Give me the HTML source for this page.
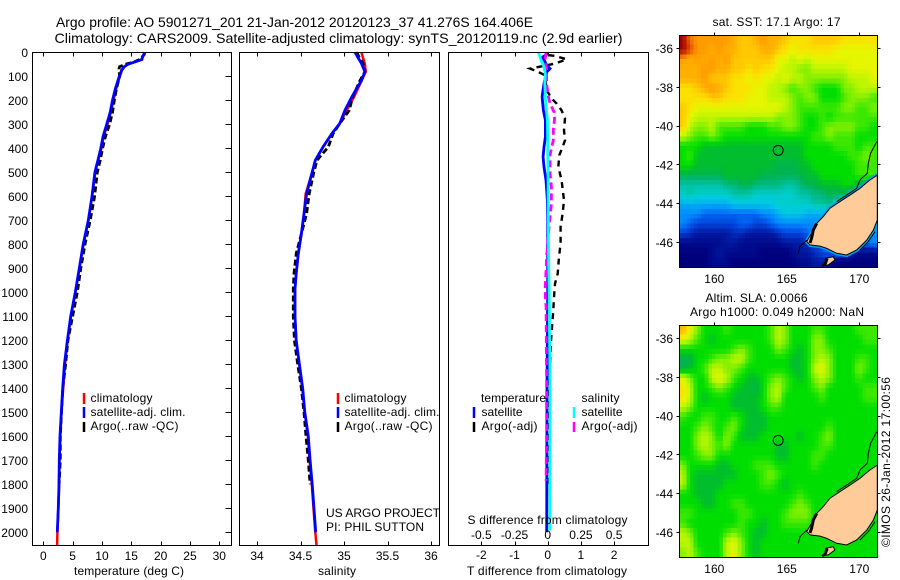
<!DOCTYPE html>
<html lang="en">
<head>
<meta charset="utf-8">
<title>Argo profile</title>
<style>
html,body{margin:0;padding:0;background:#fff;}
svg{display:block;}
text{font-family:"Liberation Sans",sans-serif;font-size:12px;fill:#000;}
.ttl{font-size:14px;}
.frame{fill:none;stroke:#000;stroke-width:1;shape-rendering:crispEdges;}
.tick{stroke:#000;stroke-width:1;shape-rendering:crispEdges;}
</style>
</head>
<body>
<svg id="chart" xmlns="http://www.w3.org/2000/svg" width="900" height="580" viewBox="0 0 900 580">
  <defs>
    <clipPath id="clip-top"><rect x="679" y="35" width="198" height="232"/></clipPath>
    <clipPath id="clip-bot"><rect x="679" y="325" width="198" height="232"/></clipPath>
  </defs>

  <text class="ttl" x="56" y="27" textLength="477" lengthAdjust="spacingAndGlyphs">Argo profile: AO 5901271_201 21-Jan-2012 20120123_37 41.276S 164.406E</text>
  <text class="ttl" x="54.5" y="43" textLength="568" lengthAdjust="spacingAndGlyphs">Climatology: CARS2009. Satellite-adjusted climatology: synTS_20120119.nc (2.9d earlier)</text>

  <g id="map-top-cells" clip-path="url(#clip-top)" shape-rendering="crispEdges"></g>
  <g id="map-top-coast" clip-path="url(#clip-top)"></g>
  <g id="map-bot-cells" clip-path="url(#clip-bot)" shape-rendering="crispEdges"></g>
  <g id="map-bot-coast" clip-path="url(#clip-bot)"></g>

  <g id="series"></g>
  <g id="axes"></g>

  <rect class="frame" x="32.5" y="52.5" width="199" height="493"/>
  <rect class="frame" x="239.5" y="52.5" width="200" height="493"/>
  <rect class="frame" x="448.5" y="52.5" width="200" height="493"/>
  <rect class="frame" x="679.5" y="35.5" width="198" height="232"/>
  <rect class="frame" x="679.5" y="325.5" width="198" height="232"/>

  <text x="129" y="575" text-anchor="middle" textLength="110">temperature (deg C)</text>
  <text x="337" y="575" text-anchor="middle" textLength="38">salinity</text>
  <text x="547" y="575" text-anchor="middle" textLength="160">T difference from climatology</text>
  <text x="467.5" y="524" textLength="160">S difference from climatology</text>

  <g>
    <line x1="84" x2="84" y1="393" y2="404" stroke="#ff0000" stroke-width="2.5"/>
    <line x1="84" x2="84" y1="407" y2="418" stroke="#0000ff" stroke-width="2.5"/>
    <line x1="84" x2="84" y1="422" y2="432" stroke="#000" stroke-width="2.5"/>
    <text x="90.5" y="402" textLength="62">climatology</text>
    <text x="90.5" y="416" textLength="95">satellite-adj. clim.</text>
    <text x="90.5" y="430" textLength="88">Argo(..raw -QC)</text>
  </g>
  <g>
    <line x1="338" x2="338" y1="393" y2="404" stroke="#ff0000" stroke-width="2.5"/>
    <line x1="338" x2="338" y1="407" y2="418" stroke="#0000ff" stroke-width="2.5"/>
    <line x1="338" x2="338" y1="422" y2="432" stroke="#000" stroke-width="2.5"/>
    <text x="344.5" y="402" textLength="62">climatology</text>
    <text x="344.5" y="416" textLength="95">satellite-adj. clim.</text>
    <text x="344.5" y="430" textLength="88">Argo(..raw -QC)</text>
  </g>
  <text x="326" y="517" textLength="114">US ARGO PROJECT</text>
  <text x="326" y="531" textLength="98">PI: PHIL SUTTON</text>
  <g>
    <text x="481" y="402" textLength="65">temperature</text>
    <text x="581.5" y="402" textLength="38">salinity</text>
    <line x1="474" x2="474" y1="407" y2="418" stroke="#0000ff" stroke-width="2.5"/>
    <line x1="474" x2="474" y1="422" y2="432" stroke="#000" stroke-width="2.5"/>
    <line x1="574" x2="574" y1="407" y2="418" stroke="#00ffff" stroke-width="2.5"/>
    <line x1="574" x2="574" y1="422" y2="432" stroke="#ff00ff" stroke-width="2.5"/>
    <text x="481.5" y="416" textLength="41">satellite</text>
    <text x="481.5" y="430" textLength="56">Argo(-adj)</text>
    <text x="581.5" y="416" textLength="41">satellite</text>
    <text x="581.5" y="430" textLength="56">Argo(-adj)</text>
  </g>

  <text x="776.5" y="26" text-anchor="middle" textLength="128">sat. SST: 17.1  Argo: 17</text>
  <text x="705.5" y="302" textLength="102">Altim. SLA: 0.0066</text>
  <text x="690" y="316" textLength="174">Argo h1000: 0.049 h2000: NaN</text>
  <text transform="translate(890,547) rotate(-90)" textLength="170">©IMOS 26-Jan-2012 17:00:56</text>
</svg>

<script>
// ---------- tick labels ----------
const depthTicks = [0,100,200,300,400,500,600,700,800,900,1000,1100,1200,1300,1400,1500,1600,1700,1800,1900,2000];
const tempTicks = [0,5,10,15,20,25,30];
const salTicks = [34,34.5,35,35.5,36];
const tDiffTicks = [-2,-1,0,1,2];
const sDiffTicks = [-0.5,-0.25,0,0.25,0.5];
const lonTicks = [160,165,170];
const latTicks = [-36,-38,-40,-42,-44,-46];

// ---------- temperature panel ----------
const tempClimDepth = [0,20,30,40,50,60,75,100,150,200,250,300,350,400,450,500,600,700,800,900,1000,1100,1200,1300,1400,1500,1600,1700,1800,1900,2000,2056];
const tempClim = [17.3,16.9,16.8,15.6,14.4,13.8,13.4,13.05,12.45,11.95,11.5,10.95,10.3,9.9,9.35,8.85,8.3,7.7,6.85,6.15,5.45,4.7,4.15,3.7,3.4,3.1,2.9,2.75,2.7,2.55,2.4,2.35];
const tempSatDepth = [0,20,30,40,50,60,75,100,150,200,250,300,350,400,450,500,600,700,800,900,1000,1100,1200,1300,1400,1500,1600,1700,1800,1900,2000];
const tempSat = [17.3,16.9,16.8,15.6,14.4,13.8,13.35,12.95,12.3,11.8,11.4,10.8,10.2,9.8,9.3,8.8,8.3,7.67,6.8,6.14,5.45,4.67,4.1,3.6,3.3,3.07,2.85,2.73,2.68,2.56,2.39];
const tempArgoDepth = [0,10,30,40,50,60,70,100,150,200,250,300,350,400,450,500,600,700,800,900,1000,1100,1200,1300,1400,1500,1600,1700,1800];
const tempArgo = [17.3,17.2,16.4,15.5,14,13,12.9,13,12.5,12.1,11.8,11.3,10.6,10.1,9.7,9.2,8.75,8,7.1,6.4,5.8,5,4.2,3.8,3.3,3.1,2.9,2.9,2.7];

// ---------- salinity panel ----------
const salClimDepth = [0,50,81,120,186,242,297,339,394,450,506,589,672,756,839,922,987,1100,1200,1300,1400,1500,1600,1700,1800,1900,2000,2056];
const salClim = [35.2,35.24,35.25,35.2,35.115,35.03,34.95,34.86,34.76,34.67,34.63,34.56,34.54,34.51,34.475,34.45,34.437,34.437,34.45,34.485,34.52,34.55,34.585,34.605,34.63,34.65,34.67,34.685];
const salSatDepth = [0,25,46,81,118,151,186,242,297,339,394,450,506,589,672,756,839,922,987,1100,1200,1300,1400,1500,1600,1700,1800,1900,2000];
const salSat = [35.126,35.165,35.2,35.24,35.2,35.146,35.09,35.01,34.95,34.86,34.76,34.67,34.63,34.57,34.54,34.51,34.475,34.45,34.437,34.437,34.45,34.487,34.525,34.55,34.59,34.61,34.635,34.655,34.675];
const salArgoDepth = [0,25,46,81,120,186,242,297,339,394,450,506,589,672,756,839,922,987,1100,1200,1300,1400,1500,1600,1700,1800];
const salArgo = [35.146,35.18,35.22,35.24,35.18,35.1,35.06,34.95,34.875,34.82,34.69,34.65,34.6,34.57,34.51,34.45,34.425,34.417,34.417,34.43,34.468,34.51,34.54,34.563,34.59,34.61];

// ---------- difference panel ----------
const tDiffArgoDepth = [12,15,29,47,68,82,96,158,193,214,242,276,325,367,394,429,478,533,617,672,728,797,853,922,964,1019,1075,1200,1370,1600,1800];
const tDiffArgo = [0.02,0.22,0.57,0.22,-0.53,-0.28,-0.08,-0.03,0.12,0.27,0.42,0.52,0.49,0.52,0.45,0.35,0.32,0.42,0.49,0.45,0.39,0.39,0.34,0.3,0.22,0.19,0.17,0.1,0.05,0.02,0.02];
const tDiffSatDepth = [0,8,20,54,68,82,130,186,242,283,353,394,436,478,533,617,700,1000,1400,2000];
const tDiffSat = [0,-0.02,-0.15,-0.03,0.07,-0.03,-0.11,-0.17,-0.13,-0.07,-0.07,-0.11,-0.14,-0.11,-0.05,-0.01,0,0,-0.02,-0.03];
const sDiffArgoDepth = [0,33,75,130,186,214,249,276,325,367,394,429,506,561,631,686,714,783,853,908,971,1019,1061,1370,1578,1786];
const sDiffArgo = [-0.012,-0.02,-0.008,-0.008,0.005,0.018,0.048,0.052,0.042,0.042,0.03,0.018,0.018,0.028,0.028,0.018,0.012,0.002,-0.008,-0.012,-0.018,-0.018,-0.012,-0.008,-0.008,-0.012];
const sDiffSatDepth = [0,33,61,89,130,186,228,283,367,506,783,1075,1400,1992];
const sDiffSat = [-0.07,-0.05,-0.028,-0.018,-0.022,-0.018,-0.012,-0.002,0,0.002,0.005,0.012,0.018,0.016];

// ---------- SST map (colour level per 0.5 x 0.5 deg block, north to south) ----------
const sstRows = [
[13,11.5,11,11,11,11,11,10.5,10,10,10.5,11,10.5,10.5,10,9.5,9.5,9.5,10,10,10,10,9.5,9.5,9.5,9.5,9.5],
[13,12,11,11,10.5,11,10.5,10.5,10,10,10,10.5,10.5,10,9.5,9,9.5,9.5,9.5,9.5,9.5,9,9,9,9,9,9],
[11,10.5,11,10.5,11,10.5,11,10,10,10,10,10,10,9,9,8.5,9,8.5,9,9,9,9,9,9,9,9,9],
[10.5,10.5,10.5,11,11,10.5,10.5,10,10,9.5,10,9.5,9.5,9,8.5,8.5,8,8,8.5,8.5,8.5,8.5,8.5,9,9,9,9],
[10.5,10.5,10.5,11,10,10,10,9.5,9.5,9,9.5,9,9,8.5,9,8.5,8.5,8,8,8,8,8,8,8.5,8.5,8.5,9],
[9.5,9.5,10,10.5,11,10.5,10,9.5,9.5,9.5,9,9,8.5,8.5,8,7.5,8,8,7.5,7,7,7,8,8,8.5,8.5,8.5],
[9.5,9.5,9.5,9.5,10,10,9.5,9.5,9.5,9,9,9,8.5,8.5,8.5,8,7.5,8,8,7,7,7,7.5,8,8,8,7.5],
[10,9.5,9,9,9,9,9,9,9,9,9,9,9,9,8.5,8,7.5,7.5,7.5,7.5,7.5,7.5,8,8,7.5,7.5,8],
[10,9,8.5,8.5,8.5,8.5,8.5,8.5,8.5,8.5,8.5,8.5,8.5,8,8,8,7.5,7,7,7.5,7,7.5,7.5,7.5,7.5,7.5,7.5],
[10,8.5,8,8,8.5,7.5,7.5,7.5,7.5,7,7,7,7.5,7.5,8,8,7.5,7,7,7.5,8,8,8,8,7.5,7.5,7],
[8.5,8,7.5,7.5,8,7.5,7,7,7,7,7,7,7,7,7,7,7,7,7.5,7.5,8,7.5,7.5,7.5,7,7,7],
[7,7,7,6.5,6.5,6.5,6.5,6.5,6.5,6.5,6.5,6.5,6.5,6.5,6.5,6.5,6.5,7,7,7,7,7.5,7.5,7.5,7,7.5,7.5],
[7,7.5,6.5,6.5,6.5,6.5,6.5,6.5,6.5,6.5,6.5,6.5,6.5,6.5,6.5,6.5,6.5,7,7,7,7,7,7,7.5,7.5,8,7.5],
[7,7,6.5,6.5,6.5,6.5,6.5,6.5,6.5,6.5,6.5,6.5,6.5,6,6,6,6.5,6.5,7,7,7,7,7,7,7.5,7.5,7.5],
[6,6,6,6,6,6,6.5,6.5,6.5,6.5,6.5,6,6,6,6,6,6,6.5,6.5,7,7,7,7,7,7.5,7.5,7.5],
[5,5,5,5,5,5,5.5,5.5,6,6,5.5,5.5,5.5,5.5,5,5,5.5,6,6,6.5,6.5,6.5,7,7,6,6,6],
[4.5,5,4.5,4.5,4.5,4.5,4.5,5,5,5,4.5,4.5,4.5,4.5,4.5,4.5,5,5,5.5,5.5,6,6,6,4.5,4,4,4],
[3.5,3.5,3.5,3.5,3.5,3.5,3.5,4,4,4,4,4,4,4.5,4.5,4.5,4.5,4.5,5,5,5.5,4,3,3,3,3,3],
[3,3,3,2.5,2.5,2.5,2.5,2.5,2.5,2.5,2.5,3,3,3.5,4,4,4,3.5,3.5,3.5,3.5,3.5,3,3,3,3,3],
[3,2.5,2,2,2,2,2,2,2.5,2.5,2,2,2.5,3,3,3,3,3,3,3.5,3.5,3,3,3,3,3,3],
[2,1.5,1,1,1,1,1,1.5,1.5,1,1,1,1,1.5,2,2,2,2.5,3,3,3,3,3,3,3,3,3],
[0.5,0.5,0.5,0.5,0.5,0.5,1,1,0.5,0.5,0.5,0.5,0.5,0.5,1,1,1,1.5,2,2.5,2.5,2.5,2.5,2.5,2.5,2.5,3],
[0,0,0,0,0.5,1,0.5,0.5,0.5,0.5,0.5,0,0,0,0,0.5,1,1,1.5,2,2.5,2.5,2,1,0.5,0.5,0.5],
[0,0,0,0,0.5,0.5,0.5,0,0,0,0,0,0,0,0,0,0.5,0.5,1,1,0.5,0,0,0,0,0,0]
];

// ---------- altimetry SLA map ----------
const slaRows = [
[10.5,9,8,7,7,7,7.5,7,7,7,7,7,7.5,8.5,8,7,7,7,7.5,7.5,7,7,7,7,7.5,7.5,7.5],
[9,8.5,7.5,7,6.5,7,7,7,7,7,7,7,7.5,8.5,8,7,7,7,8,8,7,7,7,7,7,7.5,7.5],
[7,7,7,7,7,7,7,7.5,8,7.5,7,7,7,8,7.5,7,6.5,7,8,8,7.5,7,7,7,7,7,7],
[6,6,7,7,7.5,8,8,8.5,8.5,7.5,7,7,7,7,7,6.5,6.5,7,8,8.5,8,7,7,7,7.5,7.5,7],
[6,6.5,7,7.5,8.5,8.5,8,8,7.5,7,7,7,7,7,7,6.5,6.5,7,8.5,9,8,7,7,7,8,7.5,7],
[9,8,7,7,8.5,9,8.5,7.5,7,6.5,6.5,7,7.5,8,7.5,7,6.5,7,8,8.5,8,7,7,7,7.5,7,7],
[9.5,8.5,7,7,7.5,8,7.5,7,6.5,6.5,6,7,8,8.5,7.5,7,7,7,7.5,8,7,7,7,7,7,7.5,7.5],
[9.5,8.5,7,6.5,7,7,7,6.5,6.5,6.5,6.5,7,8,8.5,7,7,7,7,7,7.5,7,7,7,7,7,7.5,7.5],
[8.5,8,7,7,7,7,7,6.5,6.5,6.5,6.5,7,7.5,7.5,7,7,7,7,7,7,7,7,7,7,7,7,7],
[7.5,7,7,7.5,7.5,7,7,7.5,7,6.5,6.5,6.5,7,7,7,7,7,7,7,7,7,7,7,7,7,7,7],
[7,7,7.5,8,7.5,7,7.5,8,7,6.5,6.5,6.5,7,7,7,7,7,7,7,7,7.5,7,7,7,7,7,7],
[7,7,8,8.5,8,7,8,7.5,6.5,6.5,6.5,7,7,7,7,7,6.5,7,7,7.5,8,7,7,7,7,7,7],
[7,7,8,8.5,8,7.5,8,7,7,7,7,7,7,6.5,6.5,7,7,7,7,7.5,7.5,7,7,7,7,7,7],
[7,7,7.5,8,8,7,7,7,7,7,7,7,7,6.5,6.5,7,7,7,7.5,7.5,7,7,7,7,7,7,7],
[8,7,7,7,7,6.5,6.5,7,7,7,7.5,7.5,7.5,7,7,7,7,7,7.5,7,7,7,7,7,7,7,7],
[8.5,7,6.5,6.5,6.5,6.5,6.5,6.5,7,7,7,7.5,8,7.5,7,7,7,7,7,7,7,7,7,7,7,7,7],
[8.5,7,6.5,6.5,6.5,6.5,7,7,7,7,7,7.5,7.5,7,6.5,7,7,7,7,7,7,7,7,7,7,7,7],
[7,7,6.5,6.5,6.5,7,7,7,7,7,7,7,7,7,7,7,7.5,7,7,7,7,7,7,7,7,7,7],
[7,7,7,6.5,6.5,7,7,7.5,7.5,7,7,7,7,7,7,7.5,8,7.5,7,7,7,7,7,7,7,7,7],
[7.5,7.5,7,7,7,7,7,7,7.5,7.5,7,7,7,7,7.5,8,8,8,7,7,7,7,7,7,7,7,7],
[7.5,7,7,7,7,7,7,7,7.5,7,7,6.5,7,7,7.5,7.5,7.5,7.5,7,7,7,7,7,7,7,7,7],
[8.5,8,7,7,7,7,7.5,8,7.5,7,6.5,6.5,7,7,7,7,7,7,7,7,7,7,7,7,7,7,7],
[8.5,8.5,7,7,7,7,8.5,9,8,7,6.5,7,7,7,7,7,7,7,7,7,7,7,7,7,7,7,7],
[8,8.5,7.5,7,7,7,8.5,9,8,7,6.5,7,7,7,7,7,7,7,7,7,7,7,7,7,7,7,7]
];

// ---------- geography ----------
const floatLon = 164.406;
const floatLat = -41.276;
const southIslandLon = [171.24,170.74,170.05,169.36,168.67,167.98,167.52,167.06,166.71,166.37,166.6,167.29,167.75,168.44,169.13,169.82,170.51,170.97,171.24];
const southIslandLat = [-42.55,-42.8,-43.23,-43.58,-43.92,-44.26,-44.69,-45.04,-45.55,-45.98,-46.15,-46.21,-46.33,-46.58,-46.67,-46.41,-45.9,-45.38,-44.87];
const stewartLon = [167.68,168.2,168.32,167.86,167.6];
const stewartLat = [-46.84,-46.76,-46.93,-47.18,-47.2];
const contourNorthLon = [171.2,170.78,170.62,170.55,170.05,169.82,169.13,168.44];
const contourNorthLat = [-40.83,-41.43,-41.95,-42.46,-42.8,-43.23,-43.58,-43.92];
const contourWestLon = [165.79,165.91,166.37];
const contourWestLat = [-46.58,-46.24,-45.9];
const contourEastLon = [170.05,170.62,171.08];
const contourEastLat = [-46.41,-45.98,-45.47];
const fiordLon = [167.06,166.83,166.71,166.6];
const fiordLat = [-45.04,-45.38,-45.8,-46.05];
const stewartShoreLon = [167.45,167.68,167.8];
const stewartShoreLat = [-47.25,-47.1,-46.85];

// ---------- axis functions ----------
const yDepth = d => 52.3 + d * 0.24;
const xTemp = t => 43.3 + t * 5.867;
const xSal = s => 257 + (s - 34) * 87;
const xTDiff = t => 547.7 + t * 33.2;
const xSDiff = s => 547.7 + s * 132.8;
const xLon = lon => 714.3 + (lon - 160) * 14.5;
const yLatTop = lat => 48 + (-36 - lat) * 19.4;
const yLatBot = lat => 338 + (-36 - lat) * 19.4;

// colour scale for both maps: level -> rgb
const levelStops = [0,0.5,1,1.5,2,2.5,3,3.5,4,4.5,5,5.5,6,6.5,7,7.5,8,8.5,9,9.5,10,10.5,11,12,13];
const levelColors = [[0,0,125],[0,10,140],[0,25,160],[0,45,190],[0,70,220],[0,100,240],[0,140,255],[0,170,240],[0,200,230],[0,205,205],[0,195,165],[0,185,130],[0,180,80],[0,190,45],[0,222,0],[60,232,0],[130,240,0],[190,245,0],[230,245,0],[250,225,0],[255,200,0],[255,175,0],[255,155,0],[220,70,0],[160,0,0]];
function levelColor(v){
  let i = 0;
  while (i < levelStops.length - 2 && v > levelStops[i + 1]) i++;
  const f = Math.max(0, Math.min(1, (v - levelStops[i]) / (levelStops[i + 1] - levelStops[i])));
  const a = levelColors[i], b = levelColors[i + 1];
  return 'rgb(' + [0,1,2].map(k => Math.round(a[k] + (b[k] - a[k]) * f)).join(',') + ')';
}

const NS = 'http://www.w3.org/2000/svg';
function mk(tag, parent){
  const el = document.createElementNS(NS, tag);
  parent.appendChild(el);
  return el;
}
const seriesG = document.getElementById('series');
const axesG = document.getElementById('axes');

function drawProfile(name, xs, depths, xFn, color, width, dash){
  const el = mk('polyline', seriesG);
  
  
  el.setAttribute('points', xs.map((v, i) => xFn(v).toFixed(1) + ',' + yDepth(depths[i]).toFixed(1)).join(' '));
  el.setAttribute('fill', 'none');
  el.setAttribute('stroke', color);
  el.setAttribute('stroke-width', width);
  if (dash) el.setAttribute('stroke-dasharray', dash);
}

drawProfile('temperature-climatology-line', tempClim, tempClimDepth, xTemp, '#ff0000', 2.5);
drawProfile('temperature-argo-line', tempArgo, tempArgoDepth, xTemp, '#000', 2.8, '6 3');
drawProfile('temperature-satellite-line', tempSat, tempSatDepth, xTemp, '#0000ff', 2.8);
drawProfile('salinity-climatology-line', salClim, salClimDepth, xSal, '#ff0000', 2.5);
drawProfile('salinity-argo-line', salArgo, salArgoDepth, xSal, '#000', 2.8, '6 3');
drawProfile('salinity-satellite-line', salSat, salSatDepth, xSal, '#0000ff', 2.8);
drawProfile('t-difference-argo-line', tDiffArgo, tDiffArgoDepth, xTDiff, '#000', 2.4, '6 5');
drawProfile('t-difference-satellite-line', tDiffSat, tDiffSatDepth, xTDiff, '#0000ff', 2.8);
drawProfile('s-difference-argo-line', sDiffArgo, sDiffArgoDepth, xSDiff, '#ff00ff', 2.8, '7 4');
drawProfile('s-difference-satellite-line', sDiffSat, sDiffSatDepth, xSDiff, '#00ffff', 2.8);

function tick(name, x1, y1, x2, y2){
  const el = mk('line', axesG);
  
  
  el.setAttribute('class', 'tick');
  el.setAttribute('x1', Math.round(x1) + 0.5);
  el.setAttribute('x2', Math.round(x2) + 0.5);
  el.setAttribute('y1', Math.round(y1) + 0.5);
  el.setAttribute('y2', Math.round(y2) + 0.5);
}
function label(name, str, x, y, anchor){
  const el = mk('text', axesG);
  
  
  el.setAttribute('x', x);
  el.setAttribute('y', y);
  el.setAttribute('text-anchor', anchor);
  el.textContent = str;
}

depthTicks.forEach(d => {
  const y = yDepth(d);
  label('depth-tick-label', String(d), 28, y + 4.5, 'end');
  tick('depth-tick', 225, y, 231, y);
});

function xAxis(prefix, vals, xFn, baseline, fmt){
  vals.forEach(v => {
    const x = xFn(v);
    tick(prefix + '-tick-top', x, 52, x, 56);
    tick(prefix + '-tick-bottom', x, 541, x, 545);
    label(prefix + '-tick-label', fmt ? fmt(v) : String(v), x, baseline, 'middle');
  });
}
xAxis('temperature', tempTicks, xTemp, 560);
xAxis('salinity', salTicks, xSal, 560);
xAxis('t-difference', tDiffTicks, xTDiff, 559);
sDiffTicks.forEach(v => {
  label('s-difference-tick-label', String(v), xSDiff(v), 539, 'middle');
});

// every block of a grid is shown as 2x2 fine cells, shaded between neighbouring blocks
function sampleGrid(rows, rf, cf){
  const r0 = Math.max(0, Math.floor(rf)), c0 = Math.max(0, Math.floor(cf));
  const r1 = Math.min(rows.length - 1, r0 + 1), c1 = Math.min(rows[0].length - 1, c0 + 1);
  const fr = Math.max(0, rf - r0), fc = Math.max(0, cf - c0);
  return (rows[r0][c0] * (1 - fc) + rows[r0][c1] * fc) * (1 - fr) + (rows[r1][c0] * (1 - fc) + rows[r1][c1] * fc) * fr;
}
function drawCells(groupId, name, rows, y0){
  const g = document.getElementById(groupId);
  const nr = rows.length * 2, nc = rows[0].length * 2;
  const cw = 198 / nc, ch = 232 / nr;
  for (let r = 0; r < nr; r++) {
    for (let c = 0; c < nc; c++) {
      const v = sampleGrid(rows, (r - 0.5) / 2, (c - 0.5) / 2);
      const el = mk('rect', g);
      
      
      el.setAttribute('x', (679 + c * cw).toFixed(2));
      el.setAttribute('y', (y0 + r * ch).toFixed(2));
      el.setAttribute('width', (cw + 0.5).toFixed(2));
      el.setAttribute('height', (ch + 0.5).toFixed(2));
      el.setAttribute('fill', levelColor(v));
    }
  }
}
drawCells('map-top-cells', 'sst-cell', sstRows, 35);
drawCells('map-bot-cells', 'sla-cell', slaRows, 325);

function geoPoints(lons, lats, yFn){
  return lons.map((lo, i) => xLon(lo).toFixed(1) + ',' + yFn(lats[i]).toFixed(1)).join(' ');
}
function drawCoast(groupId, yFn, rim){
  const g = document.getElementById(groupId);
  if (rim) {
    const halo = mk('polygon', g);
    
    
    halo.setAttribute('points', geoPoints(southIslandLon, southIslandLat, yFn));
    halo.setAttribute('fill', '#00a0f0');
    halo.setAttribute('stroke', '#00a0f0');
    halo.setAttribute('stroke-width', '4');
  }
  const land = mk('polygon', g);
  
  
  land.setAttribute('points', geoPoints(southIslandLon, southIslandLat, yFn));
  land.setAttribute('fill', '#ffcc99');
  land.setAttribute('stroke', '#000');
  land.setAttribute('stroke-width', '1');
  const isle = mk('polygon', g);
  
  
  isle.setAttribute('points', geoPoints(stewartLon, stewartLat, yFn));
  isle.setAttribute('fill', '#ffcc99');
  isle.setAttribute('stroke', '#000');
  isle.setAttribute('stroke-width', '1');
  [[contourNorthLon, contourNorthLat, 1],[contourWestLon, contourWestLat, 1],[contourEastLon, contourEastLat, 1],[fiordLon, fiordLat, 3],[stewartShoreLon, stewartShoreLat, 2.5]].forEach(p => {
    const l = mk('polyline', g);
    
    
    l.setAttribute('points', geoPoints(p[0], p[1], yFn));
    l.setAttribute('fill', 'none');
    l.setAttribute('stroke', '#000');
    l.setAttribute('stroke-width', p[2]);
  });
  const c = mk('circle', g);
  
  
  c.setAttribute('cx', xLon(floatLon));
  c.setAttribute('cy', yFn(floatLat));
  c.setAttribute('r', 5);
  c.setAttribute('fill', 'none');
  c.setAttribute('stroke', '#000');
  c.setAttribute('stroke-width', '1');
}
drawCoast('map-top-coast', yLatTop, true);
drawCoast('map-bot-coast', yLatBot, false);

function mapAxes(prefix, yFn, top, bottom){
  lonTicks.forEach(lo => {
    const x = xLon(lo);
    tick(prefix + '-lon-tick', x, top - 3, x, top);
    label(prefix + '-lon-label', String(lo), x, bottom + 16, 'middle');
  });
  latTicks.forEach(la => {
    const y = yFn(la);
    tick(prefix + '-lat-tick-left', 676, y, 679, y);
    tick(prefix + '-lat-tick-right', 877, y, 880, y);
    label(prefix + '-lat-label', String(la), 673, y + 5, 'end');
  });
}
mapAxes('sst-map', yLatTop, 35, 267);
mapAxes('sla-map', yLatBot, 325, 557);
</script>
</body>
</html>
